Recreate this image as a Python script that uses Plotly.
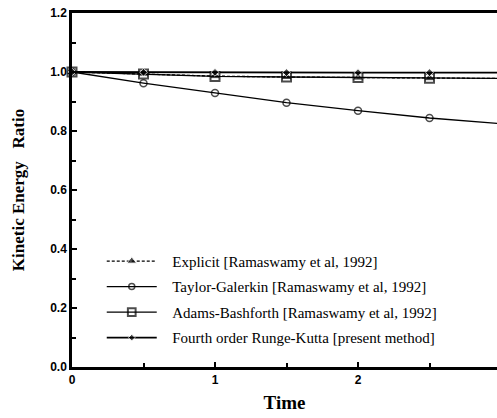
import plotly.graph_objects as go

time = [0, 0.5, 1.0, 1.5, 2.0, 2.5, 3.0]
explicit = [1.0, 0.994, 0.986, 0.983, 0.981, 0.979, 0.978]
taylor = [1.0, 0.962, 0.929, 0.896, 0.869, 0.844, 0.825]
adams = [1.0, 0.993, 0.985, 0.983, 0.981, 0.979, 0.978]
rk4 = [1.0, 0.999, 0.999, 0.998, 0.998, 0.998, 0.998]

names = [
    "Explicit [Ramaswamy et al, 1992]",
    "Taylor-Galerkin [Ramaswamy et al, 1992]",
    "Adams-Bashforth [Ramaswamy et al, 1992]",
    "Fourth order Runge-Kutta [present method]",
]
y_ticks = [0.0, 0.2, 0.4, 0.6, 0.8, 1.0, 1.2]
y_ticktext = ["0.0", "0.2", "0.4", "0.6", "0.8", "1.0", "1.2"]
x_ticks = [0, 1, 2]
x_ticktext = ["0", "1", "2"]

n = len(time)
def sizes(s):
    return [s] * (n - 1) + [0]

pad = "\u2002\u2009"

fig = go.Figure()
fig.add_trace(go.Scatter(x=time, y=explicit, name=pad + names[0], mode="lines+markers",
                         line=dict(color="black", width=1.3, dash="3px,2px"),
                         marker=dict(symbol="triangle-up", size=sizes(10), color="black"),
                         legendgroup="a", cliponaxis=False))
fig.add_trace(go.Scatter(x=time, y=taylor, name=pad + names[1], mode="lines+markers",
                         line=dict(color="black", width=1.3),
                         marker=dict(symbol="circle-open", size=sizes(7), color="black", line=dict(width=1.5)),
                         legendgroup="b", cliponaxis=False))
fig.add_trace(go.Scatter(x=time, y=adams, name=pad + names[2], mode="lines+markers",
                         line=dict(color="black", width=1.3),
                         marker=dict(symbol="square-open", size=sizes(9), color="black", line=dict(width=2)),
                         legendgroup="c", cliponaxis=False))
fig.add_trace(go.Scatter(x=time, y=rk4, name=pad + names[3], mode="lines+markers",
                         line=dict(color="black", width=1.8),
                         marker=dict(symbol="diamond", size=sizes(6), color="black"),
                         legendgroup="d", cliponaxis=False))

fig.update_layout(
    width=497, height=418,
    margin=dict(l=72, r=0, t=13, b=51),
    paper_bgcolor="white", plot_bgcolor="white",
    showlegend=True,
    legend=dict(x=0.07, y=0.345, xanchor="left", yanchor="top",
                bgcolor="rgba(0,0,0,0)", borderwidth=0,
                font=dict(family="Liberation Serif", size=15, color="black"),
                itemwidth=50, tracegroupgap=3, traceorder="grouped"),
    font=dict(family="Liberation Serif", color="black"),
)
fig.update_xaxes(range=[0, 2.972], tickvals=x_ticks, ticktext=x_ticktext,
                 showline=True, linecolor="black", linewidth=2.5, mirror=True,
                 ticks="inside", ticklen=5, tickwidth=1.5, tickcolor="black",
                 minor=dict(dtick=0.5, tick0=0, ticks="inside", ticklen=4, tickcolor="black"),
                 showgrid=False, zeroline=False,
                 tickfont=dict(family="Liberation Sans", size=12, color="black", weight="bold"),
                 title=dict(text="<b>Time</b>", font=dict(family="Liberation Serif", size=19), standoff=10))
fig.update_yaxes(range=[0, 1.2], tickvals=y_ticks, ticktext=y_ticktext,
                 showline=True, linecolor="black", linewidth=2.5, mirror=False,
                 ticks="inside", ticklen=5, tickwidth=1.5, tickcolor="black",
                 minor=dict(dtick=0.1, tick0=0, ticks="inside", ticklen=4, tickcolor="black"),
                 showgrid=False, zeroline=False,
                 tickfont=dict(family="Liberation Sans", size=12, color="black", weight="bold"),
                 title=dict(text="<b>Kinetic&nbsp;Energy&nbsp;&nbsp;&nbsp;Ratio</b>",
                            font=dict(family="Liberation Serif", size=17), standoff=22))

fig.write_html("out.html")
